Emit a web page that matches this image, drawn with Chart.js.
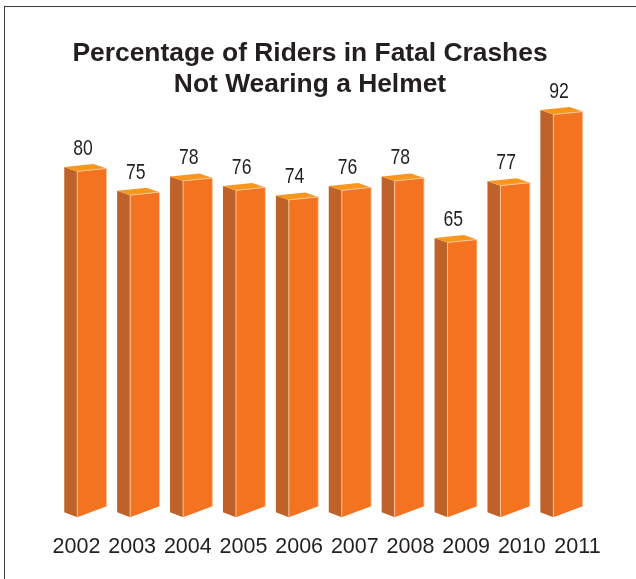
<!DOCTYPE html>
<html><head><meta charset="utf-8">
<script src="https://cdn.jsdelivr.net/npm/chart.js@4.4.1/dist/chart.umd.min.js"></script>
<style>
html,body{margin:0;padding:0;background:#fff;overflow:hidden;}
#wrap{position:relative;width:636px;height:579px;}
#frame{position:absolute;left:4px;top:6px;width:700px;height:700px;border-top:1px solid #3c3c3c;border-left:1px solid #3c3c3c;}
canvas{position:absolute;left:0;top:0;}
</style></head><body>
<div id="wrap"><div id="frame"></div><canvas id="c" width="636" height="579"></canvas></div>
<script>
const years = ['2002','2003','2004','2005','2006','2007','2008','2009','2010','2011'];
const pctNoHelmet = [80, 75, 78, 76, 74, 76, 78, 65, 77, 92];
const titleLines = ['Percentage of Riders in Fatal Crashes', 'Not Wearing a Helmet'];
const axisMin = 7, axisMax = 100;

const FRONT = '#F37321', SIDE = '#BE6229', TOP = '#F8961E', INK = '#231F20';

function poly(ctx, pts, color) {
  ctx.beginPath();
  ctx.moveTo(pts[0][0], pts[0][1]);
  for (let k = 1; k < pts.length; k++) ctx.lineTo(pts[k][0], pts[k][1]);
  ctx.closePath();
  ctx.fillStyle = color;
  ctx.fill();
}

const bar3d = {
  id: 'bar3d',
  afterDatasetsDraw(chart) {
    const ctx = chart.ctx;
    const meta = chart.getDatasetMeta(0);
    ctx.save();
    meta.data.forEach((bar, i) => {
      const p = bar.getProps(['x', 'y', 'base', 'width'], true);
      const xl = p.x - p.width / 2, xr = p.x + p.width / 2;
      const y = p.y, base = p.base;
      const dx = -13, dyT = -4.5, dyB = -5, slT = 3, slB = 11;
      poly(ctx, [[xl + dx, y + dyT], [xl, y], [xl, base], [xl + dx, base + dyB]], SIDE);
      poly(ctx, [[xl, y], [xr, y - slT], [xr, base - slB], [xl, base]], FRONT);
      poly(ctx, [[xl, y], [xr, y - slT], [xr + dx, y - slT + dyT], [xl + dx, y + dyT]], TOP);
      ctx.strokeStyle = 'rgba(255,205,165,0.85)';
      ctx.lineWidth = 1;
      ctx.beginPath();
      ctx.moveTo(xl, base); ctx.lineTo(xl, y); ctx.lineTo(xr, y - slT); ctx.lineTo(xr, base - slB);
      ctx.stroke();
      ctx.save();
      ctx.translate(p.x - 9, y - 16.5);
      ctx.scale(0.8, 1);
      ctx.fillStyle = INK;
      ctx.font = '22px "Liberation Sans", Arial, sans-serif';
      ctx.textAlign = 'center';
      ctx.textBaseline = 'alphabetic';
      ctx.fillText(String(pctNoHelmet[i]), 0, 0);
      ctx.restore();
    });
    ctx.restore();
  }
};

const titlePlugin = {
  id: 'titleText',
  afterDraw(chart) {
    const ctx = chart.ctx;
    ctx.save();
    ctx.fillStyle = INK;
    ctx.font = 'bold 26.4px "Liberation Sans", Arial, sans-serif';
    ctx.textAlign = 'center';
    ctx.textBaseline = 'alphabetic';
    ctx.fillText(titleLines[0], 310, 61);
    ctx.fillText(titleLines[1], 310, 92);
    ctx.restore();
  }
};

new Chart(document.getElementById('c'), {
  type: 'bar',
  data: {
    labels: years,
    datasets: [{
      data: pctNoHelmet,
      base: axisMin,
      backgroundColor: 'rgba(0,0,0,0)',
      borderWidth: 0,
      barThickness: 29.4,
      xAxisID: 'x',
      yAxisID: 'y'
    }]
  },
  options: {
    responsive: false,
    animation: false,
    devicePixelRatio: 1,
    events: [],
    layout: { padding: { left: 65.5, right: 41.5, top: 76.7, bottom: 2.3 } },
    plugins: { legend: { display: false }, tooltip: { enabled: false }, title: { display: false } },
    scales: {
      x: { type: 'category', display: false, offset: true },
      xl: {
        type: 'linear', position: 'bottom', min: -0.197, max: 9.306, offset: false,
        grid: { display: false, drawTicks: false, offset: false }, border: { display: false },
        afterBuildTicks(scale) { scale.ticks = years.map((_, i) => ({ value: i })); },
        ticks: {
          autoSkip: false, maxRotation: 0, padding: 16.8, color: INK,
          font: { family: '"Liberation Sans", Arial, sans-serif', size: 21.5 },
          callback: (v) => years[Math.round(v)]
        }
      },
      y: { display: false, beginAtZero: false, min: axisMin, max: axisMax }
    }
  },
  plugins: [bar3d, titlePlugin]
});
</script>
</body></html>
